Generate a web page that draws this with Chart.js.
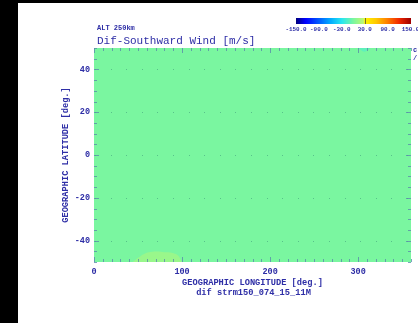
<!DOCTYPE html>
<html>
<head>
<meta charset="utf-8">
<script src="https://cdn.jsdelivr.net/npm/chart.js@4"></script>
<style>
html, body { margin: 0; padding: 0; background: #000; width: 418px; height: 323px; overflow: hidden; }
#wrap { position: absolute; left: 18px; top: 3px; width: 400px; height: 320px; background: #fff; }
</style>
</head>
<body>
<div id="wrap"><canvas id="windCanvas" width="400" height="320"></canvas></div>
<script>
const lonTicks = [0, 100, 200, 300];
const latTicks = [-40, -20, 0, 20, 40];
const colorbarTicks = [-150, -90, -30, 30, 90, 150];

// difference over almost the whole map (m/s)
const baseDiff = 0;
// weak positive patch at the southern edge
const southPatchLon = [44, 52, 62, 78, 94, 100];
const southPatchLat = [-50, -47.5, -45.5, -45.3, -46.5, -50];
const southPatchDiff = 12;
// weak negative patch at the northern edge
const northPatchLon = [300, 307, 314];
const northPatchLat = [50, 48.3, 50];
const northPatchDiff = -10;

const textColor = "#2e2ea6";
const tickColor = "rgba(90, 140, 170, 0.8)";

// colour table of the colour bar
const cbStops = [
    [-150, [0, 0, 125]],
    [-125, [0, 0, 255]],
    [-90, [0, 90, 255]],
    [-60, [0, 170, 255]],
    [-30, [40, 230, 240]],
    [0, [122, 246, 160]],
    [28, [195, 248, 110]],
    [30, [255, 245, 0]],
    [60, [255, 200, 0]],
    [90, [255, 125, 0]],
    [120, [240, 40, 0]],
    [150, [160, 0, 0]]
];

function diffColor(v) {
    for (let i = 1; i < cbStops.length; i++) {
        if (v <= cbStops[i][0]) {
            const a = cbStops[i - 1], b = cbStops[i];
            const t = (v - a[0]) / (b[0] - a[0]);
            const c = a[1].map((x, k) => Math.round(x + (b[1][k] - x) * t));
            return "rgb(" + c.join(",") + ")";
        }
    }
    return "rgb(" + cbStops[cbStops.length - 1][1].join(",") + ")";
}

const mono = "'Liberation Mono', 'DejaVu Sans Mono', monospace";

const mapPlugin = {
    id: "mapPlugin",
    beforeDatasetsDraw(chart) {
        const { ctx, chartArea: a } = chart;
        ctx.save();
        ctx.fillStyle = diffColor(baseDiff);
        ctx.fillRect(a.left, a.top, a.right - a.left, a.bottom - a.top);
        ctx.restore();
    },
    afterDraw(chart) {
        const { ctx, chartArea: a, scales } = chart;
        const xs = scales.x, ys = scales.y;
        ctx.save();

        // grid dots
        ctx.fillStyle = "rgba(60, 150, 120, 0.55)";
        latTicks.forEach(lat => {
            const py = ys.getPixelForValue(lat);
            for (let px = a.left + 1; px < a.right; px += 15.6) {
                ctx.fillRect(Math.round(px), Math.round(py), 1, 1);
            }
        });

        // inside tick marks
        ctx.strokeStyle = tickColor;
        ctx.lineWidth = 1;
        ctx.beginPath();
        for (let lon = 0; lon <= 360; lon += 10) {
            const px = Math.round(xs.getPixelForValue(lon)) + 0.5;
            const len = lon % 100 === 0 ? 5 : 3;
            ctx.moveTo(px, a.bottom); ctx.lineTo(px, a.bottom - len);
            ctx.moveTo(px, a.top); ctx.lineTo(px, a.top + len);
        }
        for (let lat = -50; lat <= 50; lat += 5) {
            const py = Math.round(ys.getPixelForValue(lat)) + 0.5;
            const len = lat % 20 === 0 ? 5 : 3;
            ctx.moveTo(a.left, py); ctx.lineTo(a.left + len, py);
            ctx.moveTo(a.right, py); ctx.lineTo(a.right - len, py);
        }
        ctx.stroke();

        // titles
        ctx.fillStyle = textColor;
        ctx.textBaseline = "middle";
        ctx.textAlign = "left";
        ctx.font = "bold 7px " + mono;
        ctx.fillText("ALT 250km", 79, 25);
        ctx.font = "11px " + mono;
        ctx.fillText("Dif-Southward Wind [m/s]", 79, 38);

        // axis titles
        ctx.textAlign = "center";
        ctx.font = "bold 8.7px " + mono;
        const cx = (a.left + a.right) / 2;
        ctx.fillText("GEOGRAPHIC LONGITUDE [deg.]", cx, 280);
        ctx.fillText("dif strm150_074_15_11M", cx + 1, 290);
        ctx.save();
        ctx.translate(48, (a.top + a.bottom) / 2);
        ctx.rotate(-Math.PI / 2);
        ctx.fillText("GEOGRAPHIC LATITUDE [deg.]", 0, 0);
        ctx.restore();

        // cut-off label at the right edge
        ctx.textAlign = "left";
        ctx.font = "bold 7px " + mono;
        ctx.fillText("c", 395, 47);
        ctx.fillText("/", 395, 55);

        // colour bar
        const cbL = 278, cbR = 392.5, cbT = 15, cbB = 21;
        const cbX = v => cbL + (v + 150) / 300 * (cbR - cbL);
        for (let px = cbL; px < cbR; px++) {
            const v = -150 + (px + 0.5 - cbL) / (cbR - cbL) * 300;
            ctx.fillStyle = diffColor(v);
            ctx.fillRect(px, cbT, 1, cbB - cbT);
        }
        ctx.fillStyle = "rgba(60, 60, 60, 0.7)";
        ctx.fillRect(Math.round(cbX(30)), cbT, 1, cbB - cbT);
        ctx.fillStyle = textColor;
        ctx.textAlign = "center";
        ctx.font = "bold 5.9px " + mono;
        colorbarTicks.forEach(v => ctx.fillText(v.toFixed(1), cbX(v), 27));

        ctx.restore();
    }
};

const windChart = new Chart(document.getElementById("windCanvas"), {
    type: "line",
    data: {
        datasets: [{
            data: southPatchLon.map((lon, i) => ({ x: lon, y: southPatchLat[i] })),
            borderWidth: 0,
            pointRadius: 0,
            tension: 0.4,
            fill: "start",
            backgroundColor: diffColor(southPatchDiff)
        }, {
            data: northPatchLon.map((lon, i) => ({ x: lon, y: northPatchLat[i] })),
            borderWidth: 0,
            pointRadius: 0,
            tension: 0.4,
            fill: "end",
            backgroundColor: diffColor(northPatchDiff)
        }]
    },
    options: {
        responsive: false,
        animation: false,
        devicePixelRatio: 1,
        layout: { padding: { left: 0, top: 45, right: 7, bottom: 0 } },
        plugins: { legend: { display: false }, tooltip: { enabled: false } },
        scales: {
            x: {
                type: "linear",
                min: 0,
                max: 360,
                afterBuildTicks: s => { s.ticks = lonTicks.map(v => ({ value: v })); },
                afterFit: s => { s.height = 61; },
                grid: { display: false, drawTicks: false },
                border: { display: false },
                ticks: { padding: 5, color: textColor, font: { family: mono, size: 8.5, weight: "bold" }, maxRotation: 0 }
            },
            y: {
                type: "linear",
                min: -50,
                max: 50,
                afterBuildTicks: s => { s.ticks = latTicks.map(v => ({ value: v })); },
                afterFit: s => { s.width = 76; },
                grid: { display: false, drawTicks: false },
                border: { display: false },
                ticks: { padding: 4, color: textColor, font: { family: mono, size: 8.5, weight: "bold" } }
            }
        }
    },
    plugins: [mapPlugin]
});
</script>
</body>
</html>
